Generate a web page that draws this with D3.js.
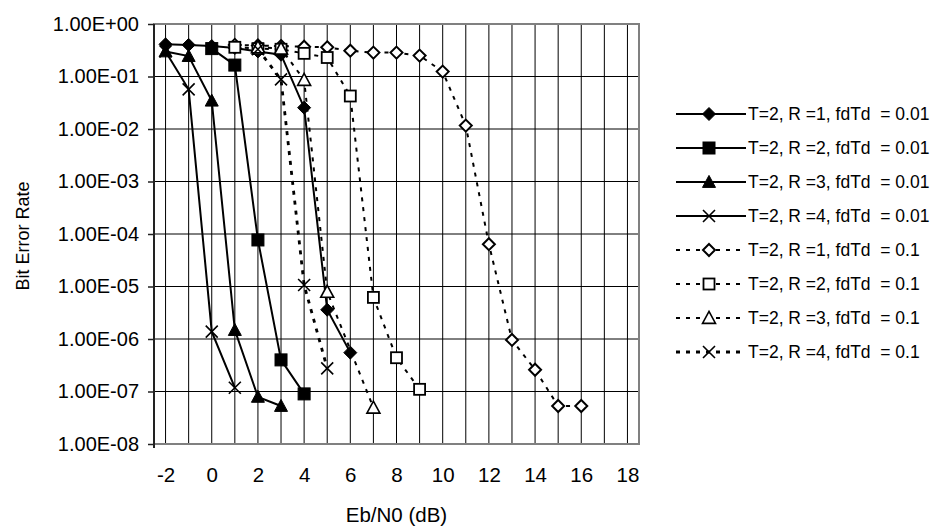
<!DOCTYPE html>
<html>
<head>
<meta charset="utf-8">
<script src="https://cdn.jsdelivr.net/npm/d3@7"></script>
<style>
  body { margin: 0; background: #fff; }
  svg { display: block; }
  text { font-family: Arial, "Liberation Sans", sans-serif; fill: #000; white-space: pre; }
</style>
</head>
<body>
<svg id="chart" width="936" height="528"></svg>
<script>
// Eb/N0 sample points (dB)
const snr = [-2, -1, 0, 1, 2, 3, 4, 5, 6, 7, 8, 9, 10, 11, 12, 13, 14, 15, 16];

// Bit error rate per curve, aligned with snr (null = not simulated)
const berR1f001 = [0.41, 0.40, 0.38, 0.35, 0.30, 0.26, 0.0255, 3.6e-6, 5.5e-7, null, null, null, null, null, null, null, null, null, null];
const berR2f001 = [null, null, 0.34, 0.165, 7.7e-5, 4.0e-7, 9.0e-8, null, null, null, null, null, null, null, null, null, null, null, null];
const berR3f001 = [0.30, 0.245, 0.0346, 1.48e-6, 7.9e-8, 5.3e-8, null, null, null, null, null, null, null, null, null, null, null, null, null];
const berR4f001 = [0.30, 0.057, 1.38e-6, 1.18e-7, null, null, null, null, null, null, null, null, null, null, null, null, null, null, null];
const berR1f01  = [null, null, null, 0.40, 0.39, 0.38, 0.37, 0.36, 0.31, 0.285, 0.285, 0.25, 0.124, 0.0116, 6.4e-5, 9.6e-7, 2.6e-7, 5.3e-8, 5.3e-8];
const berR2f01  = [null, null, null, 0.36, 0.34, 0.33, 0.276, 0.23, 0.0425, 6.2e-6, 4.4e-7, 1.1e-7, null, null, null, null, null, null, null];
const berR3f01  = [null, null, null, null, 0.36, 0.34, 0.086, 7.9e-6, null, 4.9e-8, null, null, null, null, null, null, null, null, null];
const berR4f01  = [null, null, null, null, 0.33, 0.088, 1.07e-5, 2.76e-7, null, null, null, null, null, null, null, null, null, null, null];

const seriesNames = [
  "T=2, R =1, fdTd  = 0.01", "T=2, R =2, fdTd  = 0.01",
  "T=2, R =3, fdTd  = 0.01", "T=2, R =4, fdTd  = 0.01",
  "T=2, R =1, fdTd  = 0.1",  "T=2, R =2, fdTd  = 0.1",
  "T=2, R =3, fdTd  = 0.1",  "T=2, R =4, fdTd  = 0.1"
];
const seriesValues = [berR1f001, berR2f001, berR3f001, berR4f001, berR1f01, berR2f01, berR3f01, berR4f01];

// Axis ticks
const xTickLabels = [-2, 0, 2, 4, 6, 8, 10, 12, 14, 16, 18];
const yTickValues = [1, 1e-1, 1e-2, 1e-3, 1e-4, 1e-5, 1e-6, 1e-7, 1e-8];
const xTitle = "Eb/N0 (dB)";
const yTitle = "Bit Error Rate";

// Drawing styles per curve
const styles = [
  { marker: "diamond",  filled: true,  dash: null },
  { marker: "square",   filled: true,  dash: null },
  { marker: "triangle", filled: true,  dash: null },
  { marker: "x",        filled: true,  dash: null },
  { marker: "diamond",  filled: false, dash: "4,6" },
  { marker: "square",   filled: false, dash: "4,6" },
  { marker: "triangle", filled: false, dash: "4,6" },
  { marker: "x",        filled: false, dash: "4,6", heavy: true }
];

const svg = d3.select("#chart");
const plot = { left: 154, right: 639, top: 24, bottom: 444 };

const x = d3.scaleLinear().domain([-2.5, 18.5]).range([plot.left, plot.right]);
const y = d3.scaleLog().domain([1e-8, 1]).range([plot.bottom, plot.top]);

// Gridlines
const grid = svg.append("g");
grid.selectAll("line.v").data(d3.range(-2, 19)).join("line")
  .attr("x1", d => x(d)).attr("x2", d => x(d))
  .attr("y1", plot.top).attr("y2", plot.bottom)
  .attr("stroke", "#000").attr("stroke-width", 1);
grid.selectAll("line.h").data(yTickValues.slice(1, -1)).join("line")
  .attr("x1", plot.left).attr("x2", plot.right)
  .attr("y1", d => y(d)).attr("y2", d => y(d))
  .attr("stroke", "#000").attr("stroke-width", 1);

// Plot frame
svg.append("rect")
  .attr("x", plot.left).attr("y", plot.top)
  .attr("width", plot.right - plot.left).attr("height", plot.bottom - plot.top)
  .attr("fill", "none").attr("stroke", "#808080").attr("stroke-width", 2);

// Y axis
const yAxis = d3.axisLeft(y).tickValues(yTickValues).tickSize(6).tickPadding(9)
  .tickFormat(v => {
    const e = Math.round(Math.log10(v));
    return "1.00E" + (e >= 0 ? "+" : "-") + String(Math.abs(e)).padStart(2, "0");
  });
const gy = svg.append("g").attr("transform", `translate(${plot.left},0)`).call(yAxis);
gy.select(".domain").attr("stroke", "#222").attr("stroke-width", 2).attr("d", `M0,${plot.top}V${plot.bottom + 4}`);
gy.selectAll(".tick line").attr("stroke", "#222").attr("stroke-width", 1.5);
gy.selectAll("text").style("font-size", "20px").style("font-family", "Arial, 'Liberation Sans', sans-serif");

// X axis labels
const xAxis = d3.axisBottom(x).tickValues(xTickLabels).tickSize(0).tickPadding(23).tickFormat(d => String(d));
const gx = svg.append("g").attr("transform", `translate(0,${plot.bottom})`).call(xAxis);
gx.select(".domain").remove();
gx.selectAll("text").style("font-size", "20.5px").style("font-family", "Arial, 'Liberation Sans', sans-serif");

// Axis titles
svg.append("text").attr("x", x(8)).attr("y", 522).attr("text-anchor", "middle")
  .style("font-size", "20.5px").text(xTitle);
svg.append("text").attr("transform", "translate(29,236) rotate(-90)").attr("text-anchor", "middle")
  .style("font-size", "18px").text(yTitle);

// Marker painter
function drawMarker(g, type, filled, cx, cy) {
  const fill = filled ? "#000" : "#fff";
  if (type === "diamond") {
    const r = filled ? 6.5 : 6;
    g.append("path").attr("d", `M${cx},${cy - r}L${cx + r},${cy}L${cx},${cy + r}L${cx - r},${cy}Z`)
      .attr("fill", fill).attr("stroke", "#000").attr("stroke-width", filled ? 1 : 2);
  } else if (type === "square") {
    const r = filled ? 6 : 5.5;
    g.append("rect").attr("x", cx - r).attr("y", cy - r).attr("width", 2 * r).attr("height", 2 * r)
      .attr("fill", fill).attr("stroke", "#000").attr("stroke-width", filled ? 1 : 1.8);
  } else if (type === "triangle") {
    const w = 6.5, h = 12;
    g.append("path").attr("d", `M${cx},${cy - h * 0.55}L${cx + w},${cy + h * 0.45}L${cx - w},${cy + h * 0.45}Z`)
      .attr("fill", fill).attr("stroke", "#000").attr("stroke-width", filled ? 1 : 1.6);
  } else {
    const r = 6;
    g.append("path").attr("d", `M${cx - r},${cy - r}L${cx + r},${cy + r}M${cx - r},${cy + r}L${cx + r},${cy - r}`)
      .attr("fill", "none").attr("stroke", "#000").attr("stroke-width", 1.6);
  }
}

const line = d3.line().x(d => x(d.x)).y(d => y(d.v));

// Curves: lines first, then markers
const curves = seriesValues.map(vals => snr.map((s, i) => ({ x: s, v: vals[i] })).filter(d => d.v != null));

curves.forEach((pts, i) => {
  const st = styles[i];
  svg.append("path").datum(pts).attr("d", line)
    .attr("fill", "none").attr("stroke", "#000")
    .attr("stroke-width", st.dash ? (st.heavy ? 2.8 : 2) : 2)
    .attr("stroke-dasharray", st.dash);
});
curves.forEach((pts, i) => {
  const st = styles[i];
  const g = svg.append("g");
  pts.forEach(d => drawMarker(g, st.marker, st.filled, x(d.x), y(d.v)));
});

// Legend
const legend = svg.append("g");
seriesNames.forEach((name, i) => {
  const st = styles[i];
  const ly = 114 + i * 34;
  legend.append("line").attr("x1", 676).attr("x2", 746).attr("y1", ly).attr("y2", ly)
    .attr("stroke", "#000").attr("stroke-width", st.dash ? (st.heavy ? 2.8 : 2) : 2)
    .attr("stroke-dasharray", st.dash);
  drawMarker(legend, st.marker, st.filled, 709, ly);
  legend.append("text").attr("x", 748).attr("y", ly).attr("dy", "0.35em")
    .style("font-size", "17.5px").text(name);
});
</script>
</body>
</html>
